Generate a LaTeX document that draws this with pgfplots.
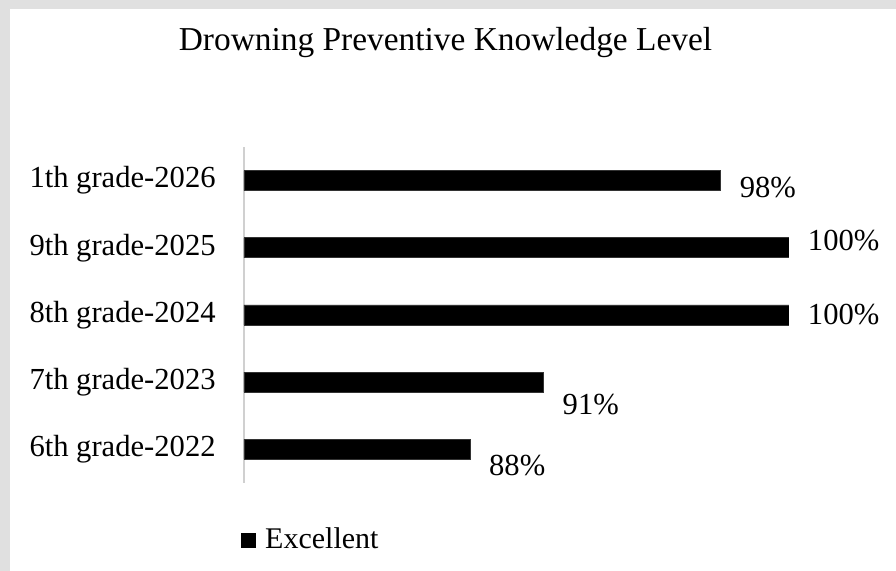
\documentclass[border=0pt]{standalone}
\usepackage{pgfplots}
\pgfplotsset{compat=1.18}
\usepackage{fontspec}
\setmainfont{Liberation Serif}
\definecolor{framegray}{HTML}{E0E0E0}
\definecolor{axisgray}{HTML}{D0D0D0}
\begin{document}
\begin{tikzpicture}
\path[use as bounding box] (0pt,0pt) rectangle (448pt,285.5pt);
\fill[framegray] (0pt,0pt) rectangle (448pt,285.5pt);
\fill[white] (5pt,0pt) rectangle (448pt,281pt);
\node[anchor=base, inner sep=0pt, font=\fontsize{16.7}{20}\selectfont] at (222.75pt,260pt) {Drowning Preventive Knowledge Level};
\begin{axis}[
  at={(122pt,44pt)}, anchor=south west,
  scale only axis, width=272.5pt, height=168pt,
  xbar, bar width=10pt,
  xmin=80, xmax=100, ymin=-0.5, ymax=4.5,
  axis x line=none,
  axis y line*=left,
  axis line style={axisgray, line width=0.6pt},
  xtick=\empty,
  ytick={0,1,2,3,4},
  yticklabels={6th grade-2022,7th grade-2023,8th grade-2024,9th grade-2025,1th grade-2026},
  major tick length=0pt,
  yticklabel style={font=\fontsize{15.3}{18}\selectfont, inner sep=0pt, xshift=-14pt},
  point meta=explicit symbolic,
  visualization depends on={value \thisrow{dy} \as \dy},
  nodes near coords={\pgfplotspointmeta\%},
  every node near coord/.style={anchor=west, inner sep=0pt, xshift=9.3pt, yshift=\dy pt, font=\fontsize{15.3}{18}\selectfont, text=black},
  legend style={at={(-0.0055,-0.1696)}, anchor=west, draw=none, fill=none, inner sep=0pt, font=\fontsize{15}{18}\selectfont, legend cell align=left},
  legend image code/.code={\fill[black] (0pt,-3.5pt) rectangle (7pt,3.5pt);},
]
\addplot[fill=black, draw=black!80] table[x=val, y=pos, meta=lab] {
pos val lab dy
0 88.3 88 -8
1 91 91 -11
2 100 100 0
3 100 100 3.5
4 97.5 98 -3.5
};
\addlegendentry{\hspace{2.5pt}Excellent}
\end{axis}
\end{tikzpicture}
\end{document}
